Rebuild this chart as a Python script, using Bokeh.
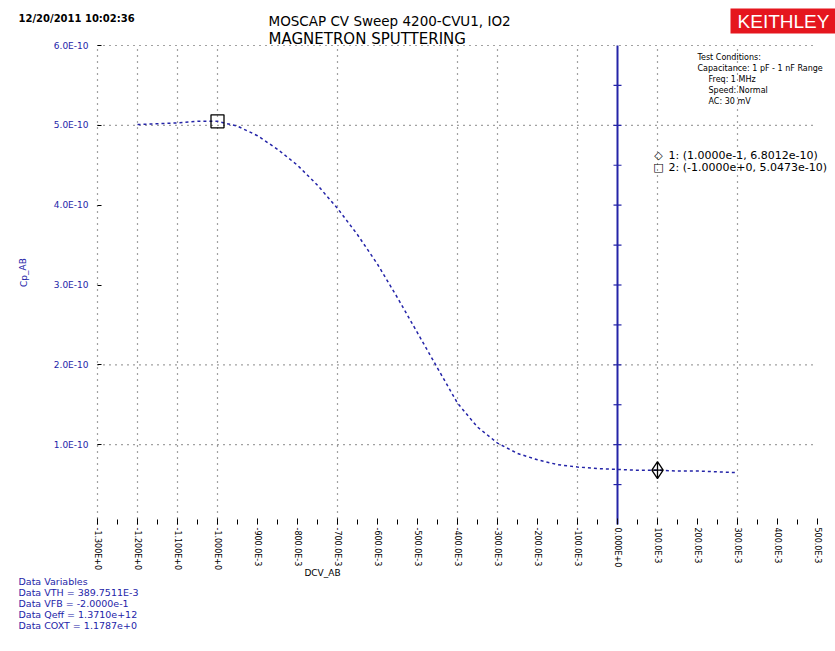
from bokeh.plotting import figure
from bokeh.models import Range1d, FixedTicker, Label, BoxAnnotation, ColumnDataSource
from bokeh.embed import file_html
from bokeh.resources import INLINE

# ---------------- data ----------------
voltage = [-1.20, -1.15, -1.10, -1.05, -1.00, -0.95, -0.90, -0.85, -0.80, -0.75,
           -0.70, -0.65, -0.60, -0.55, -0.50, -0.45, -0.40, -0.35, -0.30, -0.25,
           -0.20, -0.15, -0.10, -0.05, 0.00, 0.05, 0.10, 0.15, 0.20, 0.25, 0.30]
cap_e10 = [5.01, 5.02, 5.03, 5.05, 5.05, 4.99, 4.87, 4.70, 4.50, 4.25,
           3.96, 3.63, 3.26, 2.84, 2.40, 1.96, 1.52, 1.22, 1.02, 0.89,
           0.81, 0.75, 0.72, 0.70, 0.69, 0.68, 0.68, 0.67, 0.67, 0.66, 0.65]
capacitance = [c * 1e-10 for c in cap_e10]

x_min, x_max = -1.3, 0.5
y_min, y_max = 0.0, 6e-10

x_ticks = [-1.3, -1.2, -1.1, -1.0, -0.9, -0.8, -0.7, -0.6, -0.5, -0.4,
           -0.3, -0.2, -0.1, 0.0, 0.1, 0.2, 0.3, 0.4, 0.5]
x_tick_labels = ["-1.300E+0", "-1.200E+0", "-1.100E+0", "-1.000E+0", "-900.0E-3",
                 "-800.0E-3", "-700.0E-3", "-600.0E-3", "-500.0E-3", "-400.0E-3",
                 "-300.0E-3", "-200.0E-3", "-100.0E-3", "0.000E+0", "100.0E-3",
                 "200.0E-3", "300.0E-3", "400.0E-3", "500.0E-3"]
x_minor = [-1.25, -1.15, -1.05, -0.95, -0.85, -0.75, -0.65, -0.55, -0.45, -0.35,
           -0.25, -0.15, -0.05, 0.05, 0.15, 0.25, 0.35, 0.45]
x_grid = [-1.3, -1.2, -1.1, -1.0, -0.7, -0.4, -0.3, -0.1, 0.1, 0.3]

y_ticks = [1e-10, 2e-10, 3e-10, 4e-10, 5e-10, 6e-10]
y_tick_labels = ["1.0E-10", "2.0E-10", "3.0E-10", "4.0E-10", "5.0E-10", "6.0E-10"]
y_grid = [1e-10, 2e-10, 5e-10, 6e-10]
zero_axis_ticks = [0.5e-10 * k for k in range(1, 12)]

cursor1 = (0.1, 0.68e-10)
cursor2 = (-1.0, 5.05e-10)

title_lines = ["MOSCAP CV Sweep 4200-CVU1, IO2", "MAGNETRON SPUTTERING"]
date_text = "12/20/2011 10:02:36"
x_label = "DCV_AB"
y_label = "Cp_AB"
conditions = ["Test Conditions:", "Capacitance: 1 pF - 1 nF Range",
              "Freq: 1 MHz", "Speed: Normal", "AC: 30 mV"]
cursor_texts = ["1: (1.0000e-1, 6.8012e-10)", "2: (-1.0000e+0, 5.0473e-10)"]
data_vars = ["Data Variables", "Data VTH = 389.7511E-3", "Data VFB = -2.0000e-1",
             "Data Qeff = 1.3710e+12", "Data COXT = 1.1787e+0"]

# ---------------- layout geometry (page pixels) ----------------
W, H = 835, 651
PL, PT, PR, PB = 97, 45, 817, 524        # plot area edges
kx = (PR - PL) / (x_max - x_min)
ky = (PB - PT) / (y_max - y_min)
xr = Range1d(x_min - PL / kx, x_max + (W - PR) / kx)
yr = Range1d(y_min - (H - PB) / ky, y_max + PT / ky)

BLUE = "#2424a8"
FONT = "DejaVu Sans"

p = figure(width=W, height=H, output_backend="svg", toolbar_location=None,
           x_range=xr, y_range=yr, min_border=0)
p.outline_line_color = None
p.background_fill_color = "white"
p.xgrid.visible = False
p.ygrid.visible = False

# axes drawn at the plot-area edges inside the canvas
p.xaxis.fixed_location = y_min
p.xaxis.bounds = (x_min, x_max)
p.xaxis.ticker = FixedTicker(ticks=x_ticks, minor_ticks=x_minor)
p.xaxis.major_label_overrides = dict(zip(x_ticks, x_tick_labels))
p.xaxis.major_label_orientation = "vertical"
p.xaxis.major_label_text_font = FONT
p.xaxis.major_label_text_font_size = "8px"
p.xaxis.major_label_text_color = "black"
p.xaxis.major_label_standoff = 3
p.xaxis.axis_line_color = None
p.xaxis.major_tick_in = 6
p.xaxis.major_tick_out = 0
p.xaxis.minor_tick_in = 5
p.xaxis.minor_tick_out = 0
p.xaxis.major_tick_line_color = "black"
p.xaxis.minor_tick_line_color = "black"

p.yaxis.fixed_location = x_min
p.yaxis.bounds = (y_min, y_max)
p.yaxis.ticker = FixedTicker(ticks=y_ticks)
p.yaxis.major_label_overrides = dict(zip(y_ticks, y_tick_labels))
p.yaxis.major_label_text_font = FONT
p.yaxis.major_label_text_font_size = "9px"
p.yaxis.major_label_text_color = BLUE
p.yaxis.major_label_standoff = 9
p.yaxis.axis_line_color = None
p.yaxis.major_tick_in = 4
p.yaxis.major_tick_out = 0
p.yaxis.minor_tick_line_color = None

# dotted grid restricted to the plot area
p.segment(x0=x_grid, y0=[y_min] * len(x_grid), x1=x_grid, y1=[y_max] * len(x_grid),
          line_color="#444444", line_dash="1 5", line_width=1.2)
p.segment(x0=[x_min] * len(y_grid), y0=y_grid, x1=[x_max] * len(y_grid), y1=y_grid,
          line_color="#444444", line_dash="1 5", line_width=1.2)

# zero-volt blue line with its ticks
p.segment(x0=[0], y0=[y_min], x1=[0], y1=[y_max], line_color=BLUE, line_width=2)
p.scatter(x=[0] * len(zero_axis_ticks), y=zero_axis_ticks, marker="dash",
          size=8, line_color=BLUE, line_width=1.2)

# data curve
src = ColumnDataSource(dict(v=voltage, c=capacitance))
p.line("v", "c", source=src, line_color=BLUE, line_width=1.5, line_dash="3 3")

# cursors
p.scatter(x=[cursor1[0]], y=[cursor1[1]], marker="diamond_cross", size=17,
          fill_color=None, line_color="black", line_width=1.3)
p.scatter(x=[cursor2[0]], y=[cursor2[1]], marker="square", size=13,
          fill_color=None, line_color="black", line_width=1.3)


def lab(text, xi, yi, size, color="black", align="left", angle=0.0,
        font=FONT, style="normal"):
    """Place a text at page pixel (xi, yi)."""
    p.add_layout(Label(x=xi, y=H - yi, x_units="screen", y_units="screen",
                       text=text, text_font=font, text_font_size=size,
                       text_color=color, text_align=align, text_baseline="middle",
                       angle=angle, text_font_style=style))


lab(date_text, 18, 18, "10px", style="bold")
lab(title_lines[0], 268, 20, "13.5px")
lab(title_lines[1], 268, 38, "15px")

p.add_layout(BoxAnnotation(left=730, right=W, top=H - 8, bottom=H - 33,
                           left_units="screen", right_units="screen",
                           top_units="screen", bottom_units="screen",
                           fill_color="#e5161e", fill_alpha=1.0, line_color=None))
lab("KEITHLEY", 783, 21, "19px", color="white", align="center",
    font="Liberation Sans")

for i, t in enumerate(conditions):
    lab(t, 697 if i < 2 else 708, 57 + 11 * i, "8px")

for i, t in enumerate(cursor_texts):
    lab(t, 668, 155 + 12 * i, "11px")
lab("\u25c7", 658, 155, "11px", align="center")
lab("\u25a1", 658, 167, "11px", align="center")

for i, t in enumerate(data_vars):
    lab(t, 18, 581 + 11 * i, "9.5px", color=BLUE)

lab(x_label, 322, 572, "9px", align="center")
lab(y_label, 23, 272, "9px", color=BLUE, align="center", angle=1.5708)

open("out.html", "w").write(file_html(p, INLINE))
